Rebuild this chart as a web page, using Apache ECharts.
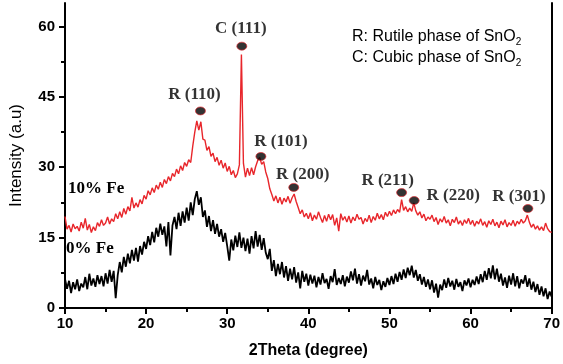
<!DOCTYPE html>
<html>
<head>
<meta charset="utf-8">
<script src="https://cdn.jsdelivr.net/npm/echarts@6/dist/echarts.min.js"></script>
<style>
  html, body { margin: 0; padding: 0; background: #fff; }
  #main { width: 563px; height: 364px; }
</style>
</head>
<body>
<div id="main"></div>
<script>
// sampling grid of the patterns (degrees 2theta)
var angleStart = 10;
var angleStep = 0.25;

// 10% Fe pattern, one row = 5 degrees
var fe10 = [
  19.5, 16.8, 17.6, 16.2, 17.9, 16.9, 17.4, 16.4, 18.3, 17.0, 19.1, 16.6, 17.8, 16.1, 17.3, 16.5, 18.2, 17.4, 18.8, 17.6,
  18.1, 19.4, 17.9, 19.0, 18.4, 20.1, 19.0, 20.5, 19.3, 21.2, 20.0, 21.6, 20.7, 23.6, 21.3, 22.4, 21.5, 23.1, 22.2, 24.0,
  23.2, 25.0, 24.1, 25.6, 24.6, 26.2, 25.3, 26.8, 25.7, 27.4, 26.5, 28.0, 27.1, 28.7, 28.0, 29.6, 28.6, 30.3, 29.3, 31.0,
  30.2, 31.6, 31.0, 34.5, 37.5, 39.9, 37.9, 39.7, 36.0, 35.8, 33.6, 34.4, 32.3, 33.0, 31.2, 32.1, 30.4, 31.5, 29.8, 30.9,
  29.1, 30.2, 28.4, 29.3, 27.8, 28.6, 30.5, 54.0, 30.8, 27.9, 29.8, 28.2, 29.9, 28.4, 30.1, 31.4, 32.1, 30.6, 31.2, 29.0,
  27.6, 25.4, 24.2, 22.8, 23.9, 22.4, 23.6, 22.1, 23.4, 22.6, 23.8, 22.3, 23.5, 24.3, 22.7, 21.4, 20.1, 20.9, 19.4, 20.2,
  19.0, 20.3, 18.6, 19.8, 18.9, 20.5, 19.3, 18.2, 19.7, 18.5, 20.0, 18.8, 19.9, 17.6, 19.2, 16.4, 20.1, 18.7, 19.5, 18.3,
  19.6, 18.1, 19.4, 18.6, 20.0, 18.9, 19.3, 17.9, 19.1, 18.4, 19.8, 18.2, 19.5, 18.7, 20.2, 19.0, 19.9, 18.8, 20.4, 19.5,
  20.6, 19.7, 20.9, 20.1, 21.0, 20.4, 23.1, 20.8, 21.6, 20.5, 21.3, 20.6, 22.4, 20.7, 19.8, 20.5, 19.2, 20.0, 18.6, 19.4,
  18.9, 19.8, 18.4, 19.3, 17.8, 19.0, 18.3, 19.5, 18.1, 18.8, 17.5, 18.9, 18.2, 19.4, 17.9, 18.6, 17.6, 18.8, 18.0, 19.1,
  17.8, 18.7, 17.4, 18.5, 17.9, 19.0, 17.6, 18.4, 17.2, 18.6, 17.8, 18.9, 17.5, 18.3, 17.1, 18.5, 17.7, 18.8, 17.3, 18.2,
  17.6, 18.7, 17.4, 18.5, 17.9, 18.9, 18.1, 18.6, 19.8, 18.3, 17.2, 17.9, 16.8, 17.5, 16.6, 17.3, 16.5, 18.1, 16.9, 16.3,
  16.1
];

// 0% Fe pattern
var fe0 = [
  6.2, 4.1, 5.8, 3.2, 5.5, 4.0, 6.1, 3.6, 5.2, 4.4, 6.6, 4.0, 7.3, 4.8, 6.3, 4.5, 7.0, 5.1, 6.8, 4.6,
  7.4, 5.2, 8.1, 5.6, 7.9, 2.1, 7.0, 9.8, 7.6, 10.9, 8.8, 11.6, 9.5, 12.4, 10.1, 12.8, 9.9, 13.2, 11.4, 14.1,
  12.6, 15.3, 13.4, 16.2, 14.0, 17.1, 15.2, 18.0, 15.6, 17.4, 13.1, 18.3, 11.2, 17.6, 19.4, 16.8, 20.3, 17.5, 20.6, 18.2,
  21.4, 18.6, 22.5, 19.8, 23.2, 24.9, 22.0, 23.6, 19.4, 20.8, 17.3, 19.6, 16.4, 18.7, 15.8, 17.9, 15.2, 16.8, 14.1, 16.0,
  13.2, 10.1, 14.6, 12.3, 15.4, 13.0, 16.1, 12.8, 15.0, 12.1, 14.8, 11.6, 15.3, 12.7, 16.4, 13.1, 15.6, 12.4, 14.9, 11.8,
  10.4, 12.6, 7.9, 10.2, 6.8, 9.4, 7.2, 9.8, 6.5, 8.9, 5.8, 8.4, 6.1, 8.7, 5.4, 7.6, 4.2, 7.9, 5.6, 7.3,
  4.8, 7.1, 5.2, 6.9, 4.4, 6.6, 5.0, 7.4, 5.3, 6.2, 4.1, 6.8, 5.5, 8.3, 4.9, 6.4, 5.1, 7.0, 4.6, 6.7,
  5.4, 7.8, 5.9, 8.4, 5.2, 7.2, 4.8, 6.9, 5.7, 8.1, 5.0, 6.3, 4.2, 6.6, 4.9, 6.0, 3.8, 5.7, 4.5, 6.4,
  4.9, 6.8, 5.1, 7.3, 5.6, 7.7, 6.0, 8.2, 6.4, 8.6, 7.0, 9.0, 6.5, 8.1, 5.8, 7.2, 5.0, 6.6, 4.5, 6.1,
  4.0, 5.9, 3.3, 5.2, 2.2, 5.0, 3.8, 6.1, 4.3, 6.4, 4.6, 5.8, 3.9, 6.2, 4.5, 5.5, 3.6, 5.9, 4.8, 6.3,
  4.4, 6.0, 4.9, 6.7, 5.1, 7.2, 5.5, 7.9, 6.0, 8.5, 6.3, 9.1, 6.1, 8.4, 5.6, 7.3, 4.8, 6.5, 4.3, 6.9,
  5.0, 7.4, 4.6, 6.8, 4.2, 6.1, 5.2, 7.0, 4.5, 6.3, 3.9, 5.6, 3.4, 5.1, 2.8, 4.6, 2.5, 4.2, 1.9, 3.5,
  2.4
];

// indexed peaks (marker position and name)
var peakNames = ["C (111)", "R (110)", "R (101)", "R (200)", "R (211)", "R (220)", "R (301)"];
var peakAngles = [31.8, 26.7, 34.15, 38.2, 51.5, 53.05, 67.07];
var peakHeights = [55.8, 42.0, 32.3, 25.7, 24.6, 22.9, 21.2];

// where each peak name sits relative to its marker (px)
var labelOffsets = [[-1, -18], [-6, -16], [20, -15], [9, -13], [-14, -12], [39, -5], [-9, -12]];

var yTicks = [0, 15, 30, 45, 60];

function toPairs(values) {
  return values.map(function (v, i) {
    return [angleStart + i * angleStep, v];
  });
}

var peakData = peakNames.map(function (name, i) {
  return {
    value: [peakAngles[i], peakHeights[i]],
    name: name,
    label: { offset: labelOffsets[i] }
  };
});

var myChart = echarts.init(document.getElementById("main"));

var sans = "Liberation Sans, Arial, sans-serif";
var serifBold = "Liberation Serif, Times New Roman, serif";
var tickFont = {
  color: "#000",
  fontFamily: sans,
  fontWeight: "bold",
  fontSize: 15
};

var option = {
  animation: false,
  backgroundColor: "#fff",
  grid: { left: 64, top: 3, right: 7, bottom: 54 },
  xAxis: [
    {
      type: "value",
      min: 10,
      max: 70,
      interval: 10,
      name: "2Theta (degree)",
      nameLocation: "middle",
      nameGap: 35,
      nameTextStyle: { color: "#000", fontFamily: sans, fontWeight: "bold", fontSize: 16 },
      axisLine: { lineStyle: { color: "#000", width: 2 } },
      axisTick: { inside: false, length: 6, lineStyle: { width: 2 } },
      minorTick: { show: true, splitNumber: 2, length: 4, lineStyle: { color: "#000", width: 2 } },
      axisLabel: Object.assign({ margin: 8 }, tickFont),
      splitLine: { show: false }
    },
    {
      type: "value",
      position: "top",
      min: 10,
      max: 70,
      interval: 10,
      axisLine: { show: true, lineStyle: { color: "#000", width: 2 } },
      axisTick: { show: false },
      axisLabel: { show: false },
      splitLine: { show: false }
    }
  ],
  yAxis: [
    {
      type: "value",
      min: 0,
      max: 65,
      interval: 15,
      name: "Intensity (a.u)",
      nameLocation: "middle",
      nameGap: 40,
      nameTextStyle: { color: "#000", fontFamily: sans, fontSize: 17 },
      axisLine: { show: true, lineStyle: { color: "#000", width: 2 } },
      axisTick: { inside: false, length: 6, lineStyle: { width: 2 }, customValues: yTicks },
      minorTick: { show: true, splitNumber: 2, length: 4, lineStyle: { color: "#000", width: 2 } },
      axisLabel: Object.assign({ margin: 10, customValues: yTicks }, tickFont),
      splitLine: { show: false }
    },
    {
      type: "value",
      position: "right",
      min: 0,
      max: 65,
      interval: 15,
      axisLine: { show: true, lineStyle: { color: "#000", width: 2 } },
      axisTick: { show: false },
      axisLabel: { show: false },
      splitLine: { show: false }
    }
  ],
  graphic: [
    {
      type: "text",
      left: 352,
      top: 26,
      style: {
        text: "R: Rutile phase of SnO{s|2}\nC: Cubic phase of SnO{s|2}",
        font: "16px " + sans,
        fill: "#000",
        lineHeight: 21,
        rich: {
          s: { fontSize: 10, padding: [11, 0, 0, 0], fontFamily: sans }
        }
      }
    },
    {
      type: "text",
      left: 68,
      top: 180,
      style: { text: "10% Fe", font: "bold 17px " + serifBold, fill: "#000" }
    },
    {
      type: "text",
      left: 66,
      top: 240,
      style: { text: "0% Fe", font: "bold 17px " + serifBold, fill: "#000" }
    }
  ],
  series: [
    {
      name: "0% Fe",
      type: "line",
      data: toPairs(fe0),
      showSymbol: false,
      lineStyle: { color: "#000", width: 1.8 },
      z: 2
    },
    {
      name: "10% Fe",
      type: "line",
      data: toPairs(fe10),
      showSymbol: false,
      lineStyle: { color: "#e8262b", width: 1.4 },
      z: 3
    },
    {
      name: "peaks",
      type: "scatter",
      data: peakData,
      symbol: "circle",
      symbolSize: [10, 8],
      itemStyle: { color: "#000", borderColor: "#e8262b", borderWidth: 0.8 },
      label: {
        show: true,
        position: "inside",
        formatter: "{b}",
        color: "#000",
        fontFamily: serifBold,
        fontWeight: "bold",
        fontSize: 17
      },
      z: 5
    }
  ]
};

myChart.setOption(option);
</script>
</body>
</html>
